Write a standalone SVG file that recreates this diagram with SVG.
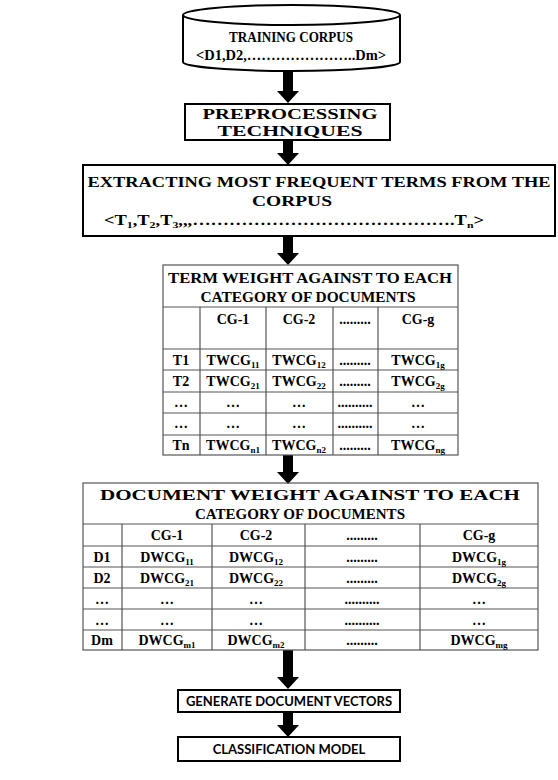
<svg xmlns="http://www.w3.org/2000/svg" width="558" height="780" viewBox="0 0 558 780">
<defs>
<style>
.bg{fill:#ffffff}
.box{fill:#ffffff;stroke:#000;stroke-width:2}
.tb{fill:none;stroke:#555;stroke-width:1.2}
.t{font-family:"Liberation Serif","Times New Roman",serif;font-weight:bold;font-size:14px;fill:#000;text-anchor:middle}
.h{font-size:15.5px}
.s{font-family:Lato,"Open Sans","Liberation Sans",sans-serif;font-weight:bold;font-size:13px;fill:#000;text-anchor:middle}
.sub{font-size:9px}
.conn{stroke:#000;stroke-width:10;fill:none}
</style>
<marker id="ah" viewBox="0 0 12 22" refX="0" refY="11" markerWidth="12" markerHeight="22" markerUnits="userSpaceOnUse" orient="auto">
<path d="M0,0 L12,11 L0,22 z" fill="#000"/>
</marker>
</defs>
<rect class="bg" x="0" y="0" width="558" height="780"/>

<g id="connectors">
<line class="conn" x1="288" y1="71" x2="288" y2="91" marker-end="url(#ah)"/>
<line class="conn" x1="288" y1="140" x2="288" y2="153" marker-end="url(#ah)"/>
<line class="conn" x1="288" y1="236" x2="288" y2="253" marker-end="url(#ah)"/>
<line class="conn" x1="288" y1="455" x2="288" y2="472" marker-end="url(#ah)"/>
<line class="conn" x1="288" y1="650" x2="288" y2="677" marker-end="url(#ah)"/>
<line class="conn" x1="288" y1="712" x2="288" y2="725" marker-end="url(#ah)"/>
</g>

<g id="training-corpus">
<path class="box" d="M183,15 L183,62 A108.5,9 0 0 0 400,62 L400,15"/>
<ellipse class="box" cx="291.5" cy="15" rx="108.5" ry="10"/>
<text class="t" x="291" y="42" font-size="16" textLength="124" lengthAdjust="spacingAndGlyphs">TRAINING  CORPUS</text>
<text class="t" x="291" y="60" textLength="190" lengthAdjust="spacingAndGlyphs">&lt;D1,D2,…………………..Dm&gt;</text>
</g>

<g id="preprocessing">
<rect class="box" x="185" y="104" width="205" height="36"/>
<text class="t h" x="290" y="119" textLength="175" lengthAdjust="spacingAndGlyphs">PREPROCESSING</text>
<text class="t h" x="290" y="136" textLength="145" lengthAdjust="spacingAndGlyphs">TECHNIQUES</text>
</g>

<g id="extracting">
<rect class="box" x="83" y="165" width="472" height="71"/>
<text class="t h" x="319" y="187" textLength="463" lengthAdjust="spacingAndGlyphs">EXTRACTING  MOST FREQUENT TERMS FROM THE</text>
<text class="t h" x="292" y="206" textLength="80" lengthAdjust="spacingAndGlyphs">CORPUS</text>
<text class="t" x="294" y="225" textLength="380" lengthAdjust="spacingAndGlyphs">&lt;T<tspan class="sub" dy="3">1</tspan><tspan dy="-3">,T</tspan><tspan class="sub" dy="3">2</tspan><tspan dy="-3">,T</tspan><tspan class="sub" dy="3">3</tspan><tspan dy="-3">,,,…………………………………….T</tspan><tspan class="sub" dy="3">n</tspan><tspan dy="-3">&gt;</tspan></text>
</g>

<g id="term-weight-table">
<rect class="tb" x="163" y="265" width="295" height="190"/>
<line class="tb" x1="163" y1="307" x2="458" y2="307"/>
<line class="tb" x1="163" y1="349" x2="458" y2="349"/>
<line class="tb" x1="163" y1="370" x2="458" y2="370"/>
<line class="tb" x1="163" y1="392" x2="458" y2="392"/>
<line class="tb" x1="163" y1="413" x2="458" y2="413"/>
<line class="tb" x1="163" y1="435" x2="458" y2="435"/>
<line class="tb" x1="200" y1="307" x2="200" y2="455"/>
<line class="tb" x1="266" y1="307" x2="266" y2="455"/>
<line class="tb" x1="333" y1="307" x2="333" y2="455"/>
<line class="tb" x1="378" y1="307" x2="378" y2="455"/>
<text class="t h" x="310" y="283" textLength="284" lengthAdjust="spacingAndGlyphs">TERM WEIGHT AGAINST TO EACH</text>
<text class="t h" x="308" y="302" textLength="215" lengthAdjust="spacingAndGlyphs">CATEGORY OF DOCUMENTS</text>
<text class="t" x="233" y="324">CG-1</text>
<text class="t" x="299" y="324">CG-2</text>
<text class="t" x="355" y="324">.........</text>
<text class="t" x="418" y="324">CG-g</text>
<text class="t" x="181" y="365">T1</text>
<text class="t" x="181" y="386">T2</text>
<text class="t" x="181" y="407">…</text>
<text class="t" x="181" y="428">…</text>
<text class="t" x="181" y="450">Tn</text>
<text class="t" x="233" y="365">TWCG<tspan class="sub" dy="3">11</tspan></text>
<text class="t" x="233" y="386">TWCG<tspan class="sub" dy="3">21</tspan></text>
<text class="t" x="233" y="407">…</text>
<text class="t" x="233" y="428">…</text>
<text class="t" x="233" y="450">TWCG<tspan class="sub" dy="3">n1</tspan></text>
<text class="t" x="299" y="365">TWCG<tspan class="sub" dy="3">12</tspan></text>
<text class="t" x="299" y="386">TWCG<tspan class="sub" dy="3">22</tspan></text>
<text class="t" x="299" y="407">…</text>
<text class="t" x="299" y="428">…</text>
<text class="t" x="299" y="450">TWCG<tspan class="sub" dy="3">n2</tspan></text>
<text class="t" x="355" y="365">.........</text>
<text class="t" x="355" y="386">.........</text>
<text class="t" x="355" y="407">..........</text>
<text class="t" x="355" y="428">..........</text>
<text class="t" x="355" y="450">.........</text>
<text class="t" x="418" y="365">TWCG<tspan class="sub" dy="3">1g</tspan></text>
<text class="t" x="418" y="386">TWCG<tspan class="sub" dy="3">2g</tspan></text>
<text class="t" x="418" y="407">…</text>
<text class="t" x="418" y="428">…</text>
<text class="t" x="418" y="450">TWCG<tspan class="sub" dy="3">ng</tspan></text>
</g>

<g id="document-weight-table">
<rect class="tb" x="83" y="483" width="455" height="167"/>
<line class="tb" x1="83" y1="524" x2="538" y2="524"/>
<line class="tb" x1="83" y1="546" x2="538" y2="546"/>
<line class="tb" x1="83" y1="567" x2="538" y2="567"/>
<line class="tb" x1="83" y1="588" x2="538" y2="588"/>
<line class="tb" x1="83" y1="609" x2="538" y2="609"/>
<line class="tb" x1="83" y1="630" x2="538" y2="630"/>
<line class="tb" x1="122" y1="524" x2="122" y2="650"/>
<line class="tb" x1="212" y1="524" x2="212" y2="650"/>
<line class="tb" x1="305" y1="524" x2="305" y2="650"/>
<line class="tb" x1="420" y1="524" x2="420" y2="650"/>
<text class="t h" x="310" y="500" textLength="420" lengthAdjust="spacingAndGlyphs">DOCUMENT WEIGHT AGAINST TO EACH</text>
<text class="t h" x="300" y="519" textLength="210" lengthAdjust="spacingAndGlyphs">CATEGORY OF DOCUMENTS</text>
<text class="t" x="167" y="540">CG-1</text>
<text class="t" x="256" y="540">CG-2</text>
<text class="t" x="362" y="540">.........</text>
<text class="t" x="479" y="540">CG-g</text>
<text class="t" x="102" y="562">D1</text>
<text class="t" x="102" y="583">D2</text>
<text class="t" x="102" y="604">…</text>
<text class="t" x="102" y="625">…</text>
<text class="t" x="102" y="645">Dm</text>
<text class="t" x="167" y="562">DWCG<tspan class="sub" dy="3">11</tspan></text>
<text class="t" x="167" y="583">DWCG<tspan class="sub" dy="3">21</tspan></text>
<text class="t" x="167" y="604">…</text>
<text class="t" x="167" y="625">…</text>
<text class="t" x="167" y="645">DWCG<tspan class="sub" dy="3">m1</tspan></text>
<text class="t" x="256" y="562">DWCG<tspan class="sub" dy="3">12</tspan></text>
<text class="t" x="256" y="583">DWCG<tspan class="sub" dy="3">22</tspan></text>
<text class="t" x="256" y="604">…</text>
<text class="t" x="256" y="625">…</text>
<text class="t" x="256" y="645">DWCG<tspan class="sub" dy="3">m2</tspan></text>
<text class="t" x="362" y="562">.........</text>
<text class="t" x="362" y="583">.........</text>
<text class="t" x="362" y="604">..........</text>
<text class="t" x="362" y="625">..........</text>
<text class="t" x="362" y="645">.........</text>
<text class="t" x="479" y="562">DWCG<tspan class="sub" dy="3">1g</tspan></text>
<text class="t" x="479" y="583">DWCG<tspan class="sub" dy="3">2g</tspan></text>
<text class="t" x="479" y="604">…</text>
<text class="t" x="479" y="625">…</text>
<text class="t" x="479" y="645">DWCG<tspan class="sub" dy="3">mg</tspan></text>
</g>

<g id="generate-vectors">
<rect class="box" x="178" y="690" width="222" height="22"/>
<text class="s" x="289" y="706">GENERATE DOCUMENT VECTORS</text>
</g>

<g id="classification-model">
<rect class="box" x="178" y="737" width="222" height="24"/>
<text class="s" x="289" y="754">CLASSIFICATION MODEL</text>
</g>
</svg>
